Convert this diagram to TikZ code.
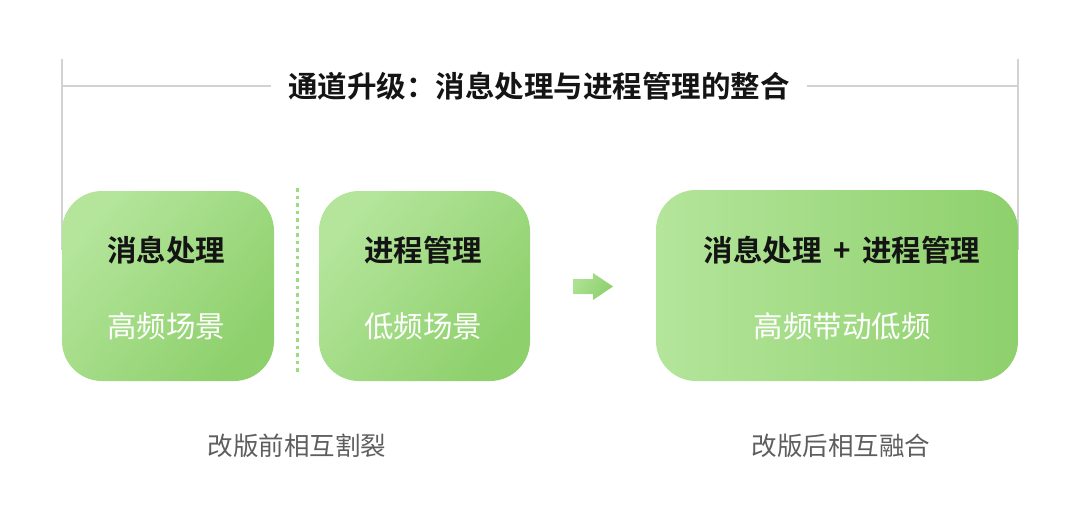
\documentclass[tikz,border=0pt]{standalone}
\usepackage{fontspec}
\setmainfont{Noto Sans CJK SC}
\newfontfamily\cjkb{Noto Sans CJK SC Bold}
\definecolor{glight}{HTML}{B4E59B}
\definecolor{gdark}{HTML}{8ED06C}
\definecolor{gdot}{HTML}{9EDB85}
\definecolor{bracketgray}{HTML}{D2D2D2}
\definecolor{captiongray}{HTML}{5E5E5E}
\definecolor{titleblack}{HTML}{141414}
\tikzset{
  card/.style={rounded corners=40pt},
  cardtitle/.style={font=\cjkb\fontsize{29.5}{32}\selectfont, text=titleblack, inner sep=0pt},
  cardsub/.style={font=\fontsize{29.5}{32}\selectfont, text=white, inner sep=0pt},
  caption/.style={font=\fontsize{25.5}{28}\selectfont, text=captiongray, inner sep=0pt},
  bracket/.style={draw=bracketgray, line width=1.4pt},
}
\begin{document}
\begin{tikzpicture}[x=1pt,y=-1pt]
\useasboundingbox (0,0) rectangle (1080,527);
% bracket
\coordinate (bl) at (62,59);
\coordinate (blb) at (62,250);
\coordinate (br) at (1018,59);
\coordinate (brb) at (1018,250);
\coordinate (hl) at (62,86);
\coordinate (hr) at (1018,86);
\node[font=\cjkb\fontsize{29.5}{32}\selectfont, text=titleblack, inner sep=0pt] (title) at (539,86) {通道升级：消息处理与进程管理的整合};
\draw[bracket] (bl) -- (blb);
\draw[bracket] (br) -- (brb);
\draw[bracket] (hl) -- ([xshift=-17pt]title.west |- hl);
\draw[bracket] ([xshift=17pt]title.east |- hr) -- (hr);
% cards
\shade[card, left color=glight, right color=gdark, shading angle=50]
  (62,191) rectangle (274,381);
\shade[card, left color=glight, right color=gdark, shading angle=50]
  (319,191) rectangle (530,381);
\shade[card, left color=glight, right color=gdark]
  (656,190) rectangle (1018,381);
\node[cardtitle] (t1) at (166,250) {消息处理};
\node[cardsub] (s1) at (166,326) {高频场景};
\node[cardtitle] (t2) at (423,250) {进程管理};
\node[cardsub] (s2) at (423,326) {低频场景};
\node[cardtitle] (t3) at (842,250) {消息处理 \,+\, 进程管理};
\node[cardsub] (s3) at (842,326) {高频带动低频};
% dotted divider
\coordinate (d1) at (297,188);
\coordinate (d2) at (297,374);
\draw[gdot, line width=3pt, dash pattern=on 3.5pt off 4pt] (d1) -- (d2);
% arrow
\shade[left color=glight!80!gdark, right color=gdark, shading angle=60]
  (573,279) -- (593,279) -- (593,273) -- (613,286.5) -- (593,300) -- (593,294) -- (573,294) -- cycle;
% captions
\node[caption] (cap1) at (297,446) {改版前相互割裂};
\node[caption] (cap2) at (841,446) {改版后相互融合};
\end{tikzpicture}
\end{document}
